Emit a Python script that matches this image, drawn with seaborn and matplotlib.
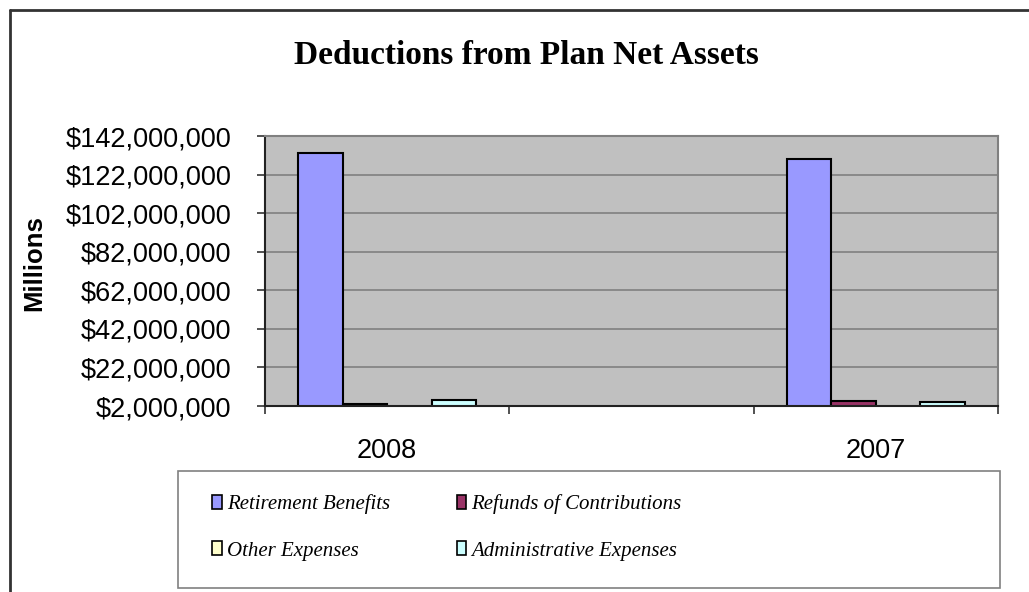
import matplotlib
matplotlib.use("Agg")
import matplotlib.pyplot as plt
import seaborn as sns
import pandas as pd
from matplotlib.patches import Patch, Rectangle
from matplotlib.lines import Line2D
from matplotlib.ticker import FuncFormatter, FixedLocator

# ---- data ----
years = ["2008", " ", "2007"]
series = ["Retirement Benefits", "Refunds of Contributions", "Other Expenses", "Administrative Expenses"]
retirement = [133_200_000, 129_900_000]
refunds = [3_000_000, 4_700_000]
other = [1_000_000, 1_000_000]
admin = [5_000_000, 3_900_000]
data_years = ["2008", "2007"]
colors = ["#9999FF", "#993366", "#FFFFCC", "#CCFFFF"]
yticks = [2_000_000, 22_000_000, 42_000_000, 62_000_000, 82_000_000, 102_000_000, 122_000_000, 142_000_000]

rows = []
for s, vals in zip(series, [retirement, refunds, other, admin]):
    for y, v in zip(data_years, vals):
        rows.append({"year": y, "series": s, "value": v})
df = pd.DataFrame(rows)

sns.set_style("white")
plt.rcParams["font.family"] = ["Liberation Sans", "DejaVu Sans"]
plt.rcParams["text.color"] = "black"
plt.rcParams["axes.labelcolor"] = "black"
plt.rcParams["xtick.color"] = "black"
plt.rcParams["ytick.color"] = "black"

fig = plt.figure(figsize=(10.29, 5.92), dpi=100)
W, H = 1029, 592
ax = fig.add_axes([265 / W, 1 - 406 / H, (998 - 265) / W, (406 - 136) / H])

palette = dict(zip(series, colors))
sns.barplot(data=df, x="year", y="value", hue="series", order=years, hue_order=series,
            palette=palette, saturation=1, width=0.727, dodge=True, edgecolor="black",
            linewidth=1.5, legend=False, ax=ax, errorbar=None)

ax.set_facecolor("#C0C0C0")
ax.set_ylim(yticks[0], yticks[-1])
ax.set_xlim(-0.5, 2.5)
ax.set_yticks(yticks)
ax.yaxis.set_major_formatter(FuncFormatter(lambda v, p: "${:,.0f}".format(v)))
ax.grid(axis="y", color="#808080", linewidth=1.2)
ax.set_axisbelow(True)

# category boundaries as ticks, labels at centers
ax.xaxis.set_major_locator(FixedLocator([-0.5, 0.5, 1.5, 2.5]))
ax.set_xticklabels(["", "", "", ""])
ax.xaxis.set_minor_locator(FixedLocator([0, 1, 2]))
ax.set_xticklabels(years, minor=True)
ax.tick_params(axis="x", which="major", direction="out", length=6, width=1.2, color="#333333", bottom=True)
ax.tick_params(axis="x", which="minor", length=0, pad=23, labelsize=19.5, labelcolor="black")
ax.tick_params(axis="y", direction="out", length=6, width=1.2, color="#333333", left=True, pad=18,
               labelsize=19.5, labelcolor="black")

for side in ["left", "bottom"]:
    ax.spines[side].set_color("#222222")
    ax.spines[side].set_linewidth(1.5)
for side in ["top", "right"]:
    ax.spines[side].set_color("#808080")
    ax.spines[side].set_linewidth(1.5)
ax.set_xlabel("")
ax.set_ylabel("Millions", fontsize=18.5, fontweight="bold", color="black")
ax.yaxis.set_label_coords((46 - 265) / (998 - 265), 0.53)

fig.text(526 / W, 1 - 55 / H, "Deductions from Plan Net Assets", ha="center", va="center",
         fontsize=24, fontweight="bold", color="black", family=["Liberation Serif", "DejaVu Serif"])

# legend box
fig.patches.append(Rectangle((178 / W, 1 - 588 / H), (1000 - 178) / W, (588 - 471) / H,
                             transform=fig.transFigure, facecolor="white", edgecolor="#808080",
                             linewidth=1.2, zorder=1))
# row-wise order (matplotlib fills legends column by column)
order_idx = [0, 2, 1, 3]
handles = [Patch(facecolor=colors[i], edgecolor="black", linewidth=1.2) for i in order_idx]
labels = [series[i] for i in order_idx]
leg = fig.legend(handles, labels, loc="upper left", bbox_to_anchor=(202 / W, 1 - 484 / H), ncol=2,
                 frameon=False, prop={"family": ["Liberation Serif", "DejaVu Serif"], "style": "italic", "size": 15},
                 handlelength=0.45, handleheight=0.65, handletextpad=0.25, columnspacing=3.2,
                 labelspacing=1.3, borderpad=0, labelcolor="black")
leg.set_zorder(2)

# outer border
fig.add_artist(Line2D([9.5 / W, 1.01], [1 - 9.5 / H, 1 - 9.5 / H], transform=fig.transFigure,
                      color="#333333", linewidth=2))
fig.add_artist(Line2D([9.5 / W, 9.5 / W], [1 - 9.5 / H, -0.01], transform=fig.transFigure,
                      color="#333333", linewidth=2))

fig.savefig("out.png", dpi=100)
